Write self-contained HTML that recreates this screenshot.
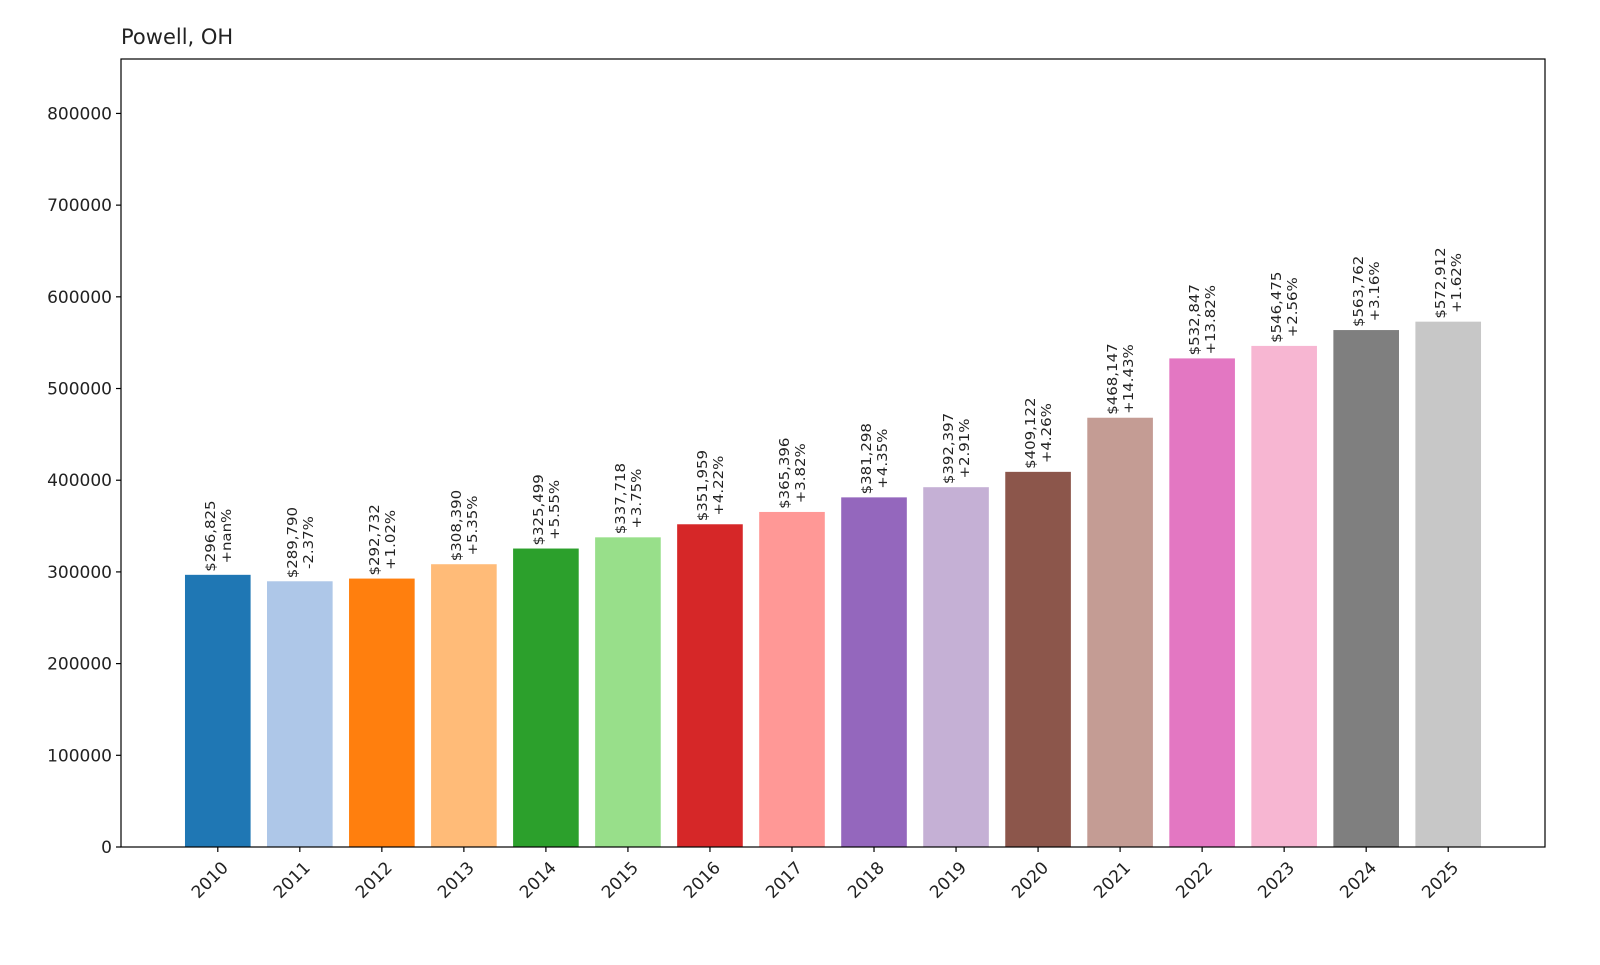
<!DOCTYPE html>
<html><head><meta charset="utf-8"><style>body{margin:0;background:#fff}svg{font-family:"DejaVu Sans","Liberation Sans",sans-serif}</style></head>
<body>
<svg id="chart" width="1600" height="960" xmlns="http://www.w3.org/2000/svg">
<text x="121" y="44" font-size="21" fill="#222">Powell, OH</text>
<g id="bars"></g>
<g id="labels"></g>
<g id="yaxis"></g>
<g id="xaxis"></g>
<rect x="121" y="59" width="1424" height="788" fill="none" stroke="#000" stroke-width="1.2"/>
</svg>
<script>
const years = ["2010","2011","2012","2013","2014","2015","2016","2017","2018","2019","2020","2021","2022","2023","2024","2025"];
const values = [296825,289790,292732,308390,325499,337718,351959,365396,381298,392397,409122,468147,532847,546475,563762,572912];
const yTicks = [0,100000,200000,300000,400000,500000,600000,700000,800000];
const colors = ["#1f77b4","#aec7e8","#ff7f0e","#ffbb78","#2ca02c","#98df8a","#d62728","#ff9896","#9467bd","#c5b0d5","#8c564b","#c49c94","#e377c2","#f7b6d2","#7f7f7f","#c7c7c7"];
const NS="http://www.w3.org/2000/svg";
const L=121,R=1545,T=59,B=847;
const yMax=Math.max(...values)*1.5;
const y=v=>B-(v/yMax)*(B-T);
const n=years.length;
const x0=-0.5-0.68, x1=n-0.5+0.68;
const x=i=>L+(i-x0)/(x1-x0)*(R-L);
const bw=0.8*(R-L)/(x1-x0);
function mk(tag,attrs,parent,txt){const e=document.createElementNS(NS,tag);for(const k in attrs)e.setAttribute(k,attrs[k]);if(txt!==undefined)e.textContent=txt;document.getElementById(parent).appendChild(e);return e;}
values.forEach((v,i)=>{
  const r=mk('rect',{x:x(i)-bw/2,y:y(v),width:bw,height:B-y(v),fill:colors[i]},'bars');
  
  
  const pct=i===0?'+nan%':((v/values[i-1]-1)*100>=0?'+':'')+((v/values[i-1]-1)*100).toFixed(2)+'%';
  const l1='$'+v.toLocaleString('en-US');
  const t1=mk('text',{'font-size':13,fill:'#222','text-anchor':'middle'},'labels',l1);
  
  
  const t2=mk('text',{'font-size':13,fill:'#222','text-anchor':'middle'},'labels',pct);
  
  
  const len=Math.max(t1.getComputedTextLength(),t2.getComputedTextLength())*1.15;
  const cy=y(v)-3-len/2;
  t1.setAttribute('transform',`translate(${x(i)-3},${cy}) rotate(-90) scale(1.15,1)`);
  t2.setAttribute('transform',`translate(${x(i)+13},${cy}) rotate(-90) scale(1.15,1)`);
  const tk=mk('line',{x1:x(i),x2:x(i),y1:B,y2:B+5,stroke:'#000','stroke-width':1.2},'xaxis');
  
  
  const tl=mk('text',{'font-size':17,fill:'#222','text-anchor':'middle',transform:`translate(${x(i)-4},${884}) rotate(-45)`},'xaxis',years[i]);
  
  
});
yTicks.forEach(v=>{
  const tk=mk('line',{x1:L-5,x2:L,y1:y(v),y2:y(v),stroke:'#000','stroke-width':1.2},'yaxis');
  
  
  const tl=mk('text',{x:L-9,y:y(v)+6,'font-size':17,fill:'#222','text-anchor':'end'},'yaxis',String(v));
  
  
});
</script>
</body></html>
